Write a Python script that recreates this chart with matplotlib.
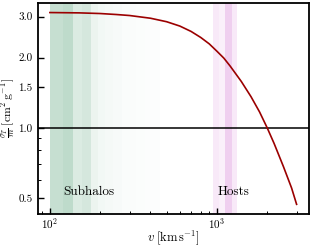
import matplotlib
matplotlib.use("Agg")
import matplotlib.pyplot as plt
from matplotlib.ticker import FixedLocator, NullFormatter, FuncFormatter

plt.rcParams["font.family"] = "serif"
plt.rcParams["font.serif"] = ["cmr10", "DejaVu Serif"]
plt.rcParams["mathtext.fontset"] = "cm"
plt.rcParams["axes.formatter.use_mathtext"] = True

# cross section per mass vs velocity
v = [100, 150, 200, 250, 300, 400, 500, 600, 700, 800, 900, 1000, 1100,
     1200, 1400, 1600, 1800, 2000, 2200, 2500, 2800, 3000]
sigma_m = [3.12, 3.11, 3.09, 3.06, 3.03, 2.95, 2.85, 2.73, 2.59, 2.44, 2.29, 2.13, 1.99,
           1.84, 1.58, 1.36, 1.17, 1.00, 0.857, 0.683, 0.552, 0.47]

# subhalo velocity bands (edges and opacity of each band)
sub_edges = [100, 120, 138, 156, 176, 195, 214, 238, 269, 301, 330, 370, 456]
sub_alpha = [0.27, 0.31, 0.17, 0.20, 0.09, 0.06, 0.045, 0.035, 0.025, 0.02, 0.015, 0.01]

# host velocity bands
host_edges = [943, 1028, 1117, 1225, 1312]
host_alpha = [0.15, 0.10, 0.33, 0.15]

yticks = [0.5, 1.0, 1.5, 2.0, 3.0]

fig = plt.figure(figsize=(3.13, 2.47), dpi=100)
ax = fig.add_axes([0.12, 0.134, 0.867, 0.854])

for i in range(len(sub_alpha)):
    ax.axvspan(sub_edges[i], sub_edges[i + 1], color="seagreen", alpha=sub_alpha[i], lw=0, zorder=0)
for i in range(len(host_alpha)):
    ax.axvspan(host_edges[i], host_edges[i + 1], color="#d070d0", alpha=host_alpha[i], lw=0, zorder=0)

ax.plot(v, sigma_m, color="#9b0000", lw=1.2, zorder=3)
ax.axhline(1.0, color="black", lw=1.1, zorder=2)

ax.set_xscale("log")
ax.set_yscale("log")

ax.yaxis.set_major_locator(FixedLocator(yticks))
ax.yaxis.set_major_formatter(FuncFormatter(lambda y, p: "%.1f" % y))
ax.yaxis.set_minor_locator(FixedLocator([0.6, 0.7, 0.8, 0.9]))
ax.yaxis.set_minor_formatter(NullFormatter())

ax.tick_params(which="both", direction="in", labelsize=8)
ax.tick_params(which="major", length=4.5, width=1)
ax.tick_params(which="minor", length=2.5, width=0.7)
ax.tick_params(axis="x", which="major", pad=1.5)
for s in ax.spines.values():
    s.set_linewidth(1.3)

ax.text(120, 0.53, "Subhalos", fontsize=9.5, va="center")
ax.text(1010, 0.53, "Hosts", fontsize=9.5, va="center")

ax.set_xlabel(r"$v\;[\mathrm{km\,s^{-1}}]$", fontsize=9, labelpad=-1.5)
ax.set_ylabel(r"$\frac{\sigma_T}{m}\;[\mathrm{cm^2\,g^{-1}}]$", fontsize=8.5, labelpad=0)

plt.savefig("out.png", dpi=100)
